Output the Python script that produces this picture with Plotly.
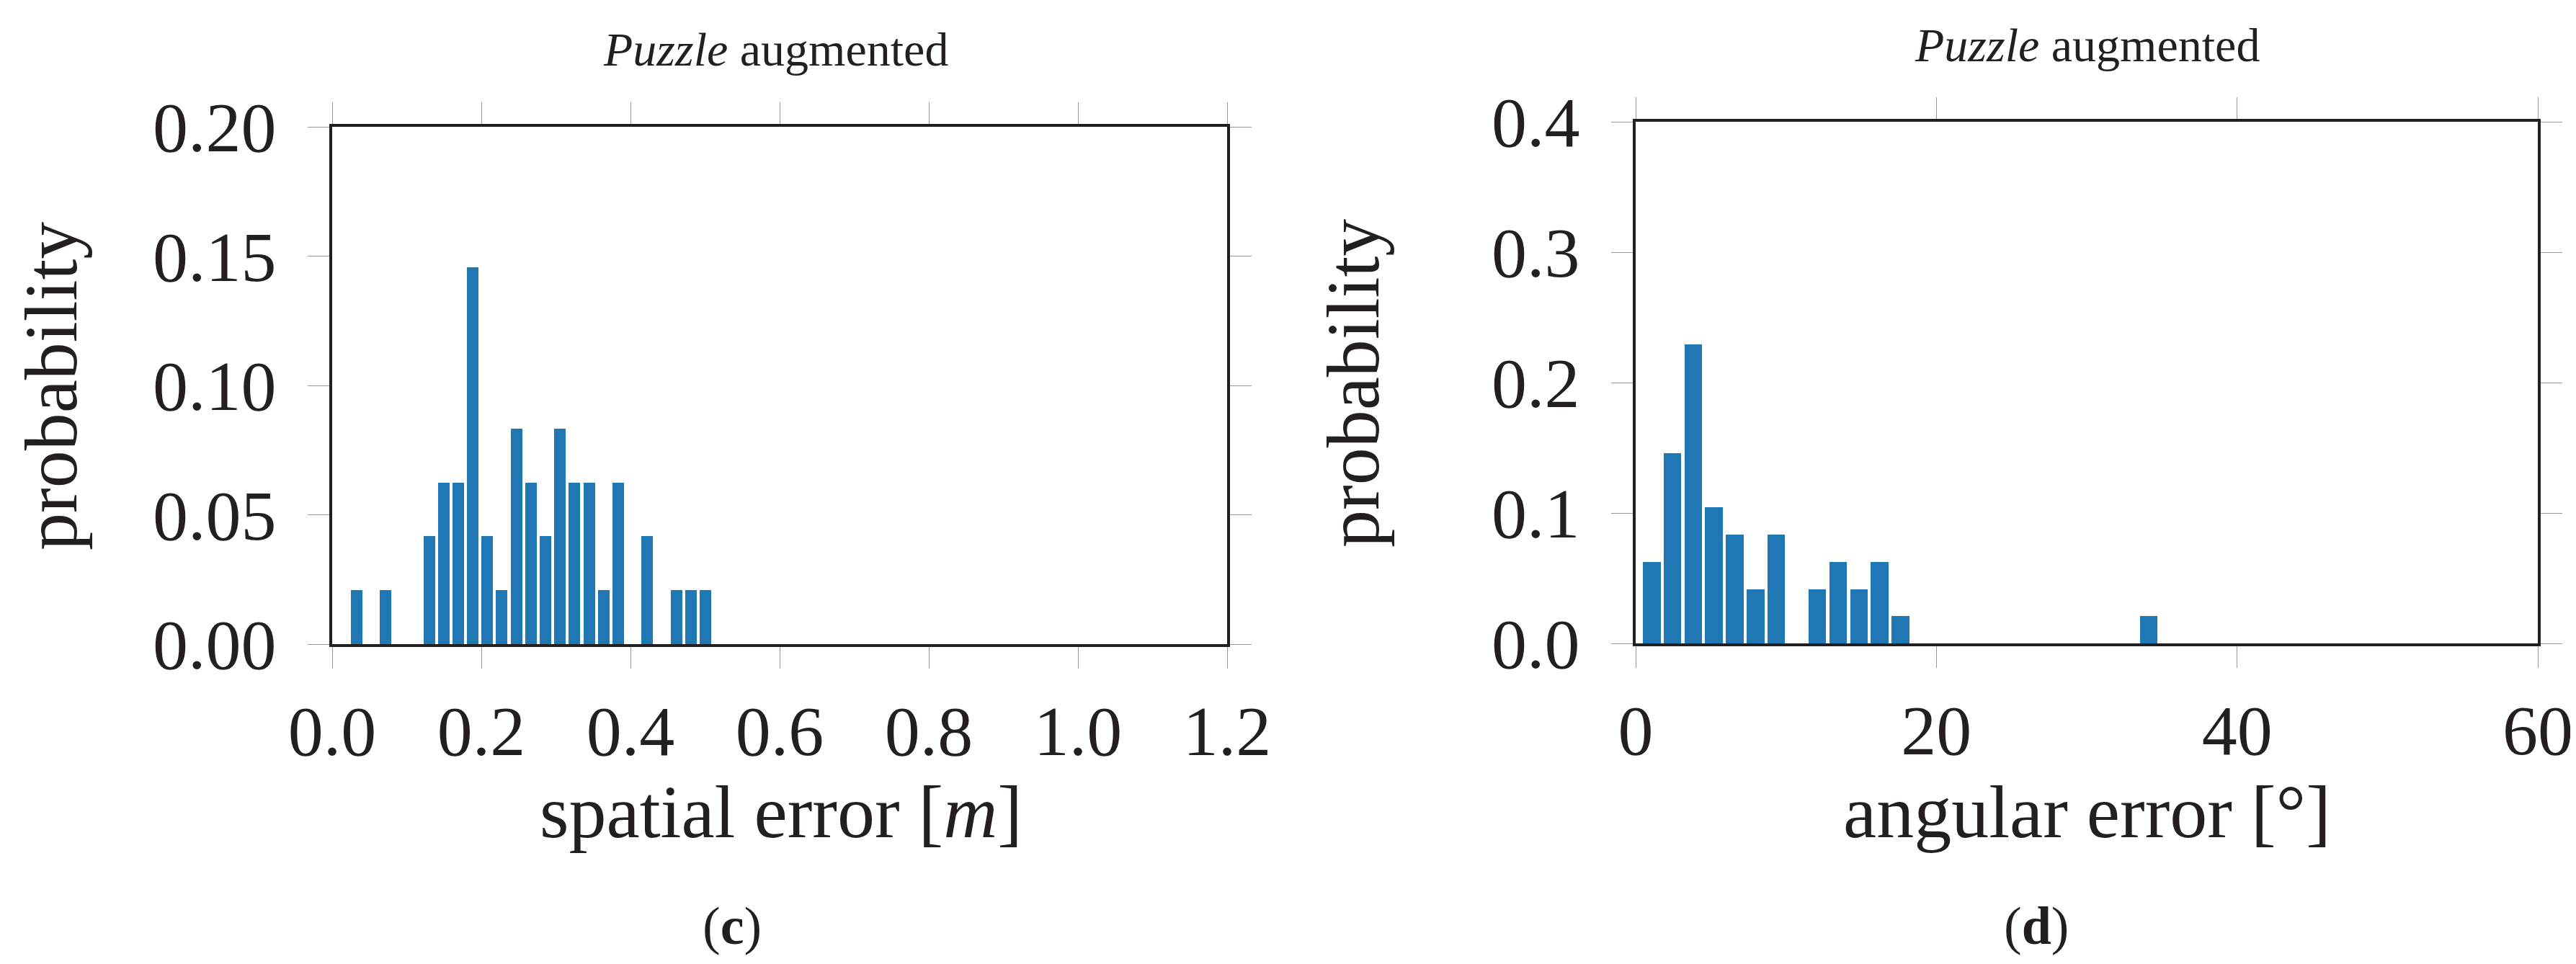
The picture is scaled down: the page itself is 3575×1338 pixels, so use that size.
import plotly.graph_objects as go

# ---- data ----
spatial_bin_centers = [0.0330, 0.0718, 0.1301, 0.1495, 0.1690, 0.1885, 0.2080, 0.2275,
                       0.2470, 0.2665, 0.2860, 0.3055, 0.3250, 0.3445, 0.3640, 0.3834,
                       0.4224, 0.4614, 0.4809, 0.5004]
spatial_prob = [0.0208, 0.0208, 0.0417, 0.0625, 0.0625, 0.1458, 0.0417, 0.0208,
                0.0833, 0.0625, 0.0417, 0.0833, 0.0625, 0.0625, 0.0208, 0.0625,
                0.0417, 0.0208, 0.0208, 0.0208]

angular_bin_centers = [1.08, 2.45, 3.84, 5.20, 6.59, 7.97, 9.34, 12.08, 13.47, 14.85,
                       16.22, 17.61, 34.13]
angular_prob = [0.0625, 0.1458, 0.2292, 0.1042, 0.0833, 0.0417, 0.0833, 0.0417,
                0.0625, 0.0417, 0.0625, 0.0208, 0.0208]

spatial_xticks = [0.0, 0.2, 0.4, 0.6, 0.8, 1.0, 1.2]
spatial_xticklabels = ["0.0", "0.2", "0.4", "0.6", "0.8", "1.0", "1.2"]
spatial_yticks = [0.0, 0.05, 0.10, 0.15, 0.20]
spatial_yticklabels = ["0.00", "0.05", "0.10", "0.15", "0.20"]
angular_xticks = [0, 20, 40, 60]
angular_yticks = [0.0, 0.1, 0.2, 0.3, 0.4]
angular_yticklabels = ["0.0", "0.1", "0.2", "0.3", "0.4"]

W, H = 3575, 1338
FONT = "Liberation Serif"
BAR = "#1f77b4"
FRAME = "#231f20"
TICKC = "#999999"

fig = go.Figure()
fig.add_trace(go.Bar(x=spatial_bin_centers, y=spatial_prob, width=0.0155,
                     marker=dict(color=BAR, line=dict(width=0)),
                     xaxis="x", yaxis="y", showlegend=False))
fig.add_trace(go.Bar(x=angular_bin_centers, y=angular_prob, width=1.18,
                     marker=dict(color=BAR, line=dict(width=0)),
                     xaxis="x2", yaxis="y2", showlegend=False))

def px(x):
    return x / W

def py(y):
    return 1 - y / H

axis_common = dict(
    showgrid=False, zeroline=False, showline=True, linewidth=4, linecolor=FRAME,
    mirror="allticks", ticks="outside", ticklen=30, tickwidth=1.3, tickcolor=TICKC,
    automargin=False,
    tickfont=dict(family=FONT, size=98, color="#231f20"),
)

fig.update_layout(
    template="none",
    width=W, height=H,
    margin=dict(l=0, r=0, t=0, b=0),
    paper_bgcolor="white", plot_bgcolor="white",
    bargap=0,
    xaxis=dict(domain=[px(453), px(1695)], range=[0, 1.2], tickvals=spatial_xticks,
               ticktext=spatial_xticklabels, anchor="y", ticklabelstandoff=2, **axis_common),
    yaxis=dict(domain=[py(886), py(168)], range=[0, 0.2], tickvals=spatial_yticks,
               ticktext=spatial_yticklabels, anchor="x", ticklabelstandoff=24, **axis_common),
    xaxis2=dict(domain=[px(2262), px(3514)], range=[0, 60], tickvals=angular_xticks,
                ticktext=[str(v) for v in angular_xticks], anchor="y2", ticklabelstandoff=2,
                **axis_common),
    yaxis2=dict(domain=[py(885), py(161)], range=[0, 0.4], tickvals=angular_yticks,
                ticktext=angular_yticklabels, anchor="x2", ticklabelstandoff=24, **axis_common),
)

def ann(text, x, y, size, angle=0):
    fig.add_annotation(text=text, x=px(x), y=py(y), xref="paper", yref="paper",
                       xanchor="center", yanchor="middle", showarrow=False, textangle=angle,
                       font=dict(family=FONT, size=size, color="#231f20"))

# titles
ann("<i>Puzzle</i> augmented", 1068, 61, 66)
ann("<i>Puzzle</i> augmented", 2888, 54, 66)
# axis titles
ann("spatial error [<i>m</i>]", 1076, 1118, 104)
ann("angular error [°]", 2888, 1118, 104)
ann("probability", 62, 528, 104, -90)
ann("probability", 1869, 524, 104, -90)
# captions
ann("(<b>c</b>)", 1008, 1277, 74)
ann("(<b>d</b>)", 2818, 1277, 74)

fig.write_html("out.html")
